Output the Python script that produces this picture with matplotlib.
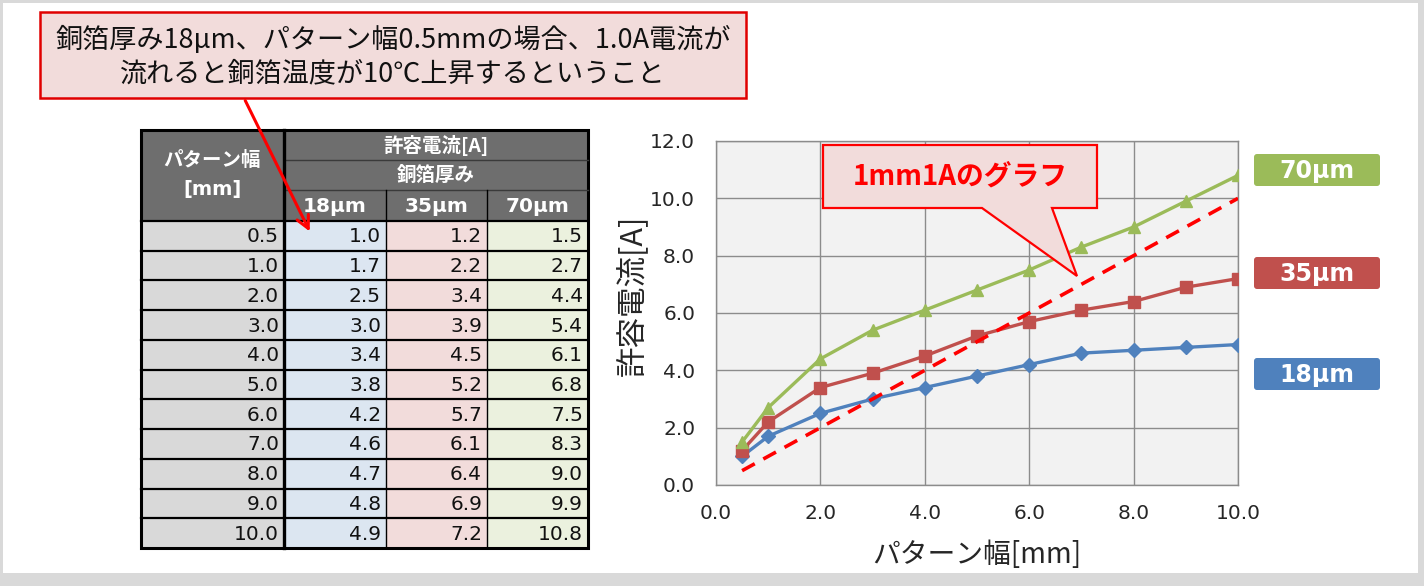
import matplotlib
matplotlib.use("Agg")
import matplotlib.pyplot as plt
from matplotlib.patches import Rectangle, Polygon, FancyBboxPatch

plt.rcParams['font.family'] = ['Noto Sans CJK JP', 'DejaVu Sans']

# ---------------- data ----------------
widths = [0.5, 1.0, 2.0, 3.0, 4.0, 5.0, 6.0, 7.0, 8.0, 9.0, 10.0]
cur_18 = [1.0, 1.7, 2.5, 3.0, 3.4, 3.8, 4.2, 4.6, 4.7, 4.8, 4.9]
cur_35 = [1.2, 2.2, 3.4, 3.9, 4.5, 5.2, 5.7, 6.1, 6.4, 6.9, 7.2]
cur_70 = [1.5, 2.7, 4.4, 5.4, 6.1, 6.8, 7.5, 8.3, 9.0, 9.9, 10.8]
ref_x = [0.5, 10.0]
ref_y = [0.5, 10.0]
series_names = ['18μm', '35μm', '70μm']
xticks = [0, 2, 4, 6, 8, 10]
yticks = [0, 2, 4, 6, 8, 10, 12]

c_blue, c_red, c_green = '#4f81bd', '#c0504d', '#9bbb59'

W, H = 1424, 586
fig = plt.figure(figsize=(W / 100, H / 100), dpi=100)
fig.patch.set_facecolor('#d9d9d9')

# background / table layer (pixel coordinates)
bg = fig.add_axes([0, 0, 1, 1], zorder=0)
bg.set_xlim(0, W); bg.set_ylim(H, 0); bg.axis('off')
bg.add_patch(Rectangle((3, 3), 1415, 570, facecolor='white', edgecolor='none'))

# ---------------- table ----------------
col_x = [141, 284, 386, 487, 588]
hdr_y = [130, 160, 190, 221]
row_h = (548 - 221) / len(widths)
hdr_fc = '#6e6e6e'
col_fc = ['#d9d9d9', '#dce6f1', '#f2dcdb', '#ebf1de']

bg.add_patch(Rectangle((col_x[0], hdr_y[0]), col_x[4] - col_x[0], hdr_y[3] - hdr_y[0],
                       facecolor=hdr_fc, edgecolor='none'))
for i in range(len(widths)):
    y0 = 221 + i * row_h
    for c in range(4):
        bg.add_patch(Rectangle((col_x[c], y0), col_x[c + 1] - col_x[c], row_h,
                               facecolor=col_fc[c], edgecolor='none'))
    vals = [widths[i], cur_18[i], cur_35[i], cur_70[i]]
    for c, v in enumerate(vals):
        bg.text(col_x[c + 1] - 5, y0 + row_h / 2 + 1, f'{v:.1f}', ha='right', va='center',
                fontsize=14.5, family='DejaVu Sans', color='#111111')
    if i > 0:
        bg.plot([col_x[0], col_x[4]], [y0, y0], color='black', lw=1.6)

# header lines
bg.plot([col_x[1], col_x[4]], [hdr_y[1], hdr_y[1]], color='#3a3a3a', lw=1.0)
bg.plot([col_x[1], col_x[4]], [hdr_y[2], hdr_y[2]], color='#3a3a3a', lw=1.0)
bg.plot([col_x[0], col_x[4]], [hdr_y[3], hdr_y[3]], color='black', lw=1.6)
for c in (2, 3):
    bg.plot([col_x[c], col_x[c]], [hdr_y[2], 548], color='black', lw=1.0)
bg.plot([col_x[1], col_x[1]], [hdr_y[0], 548], color='black', lw=2.4)
bg.add_patch(Rectangle((col_x[0], hdr_y[0]), col_x[4] - col_x[0], 548 - hdr_y[0],
                       facecolor='none', edgecolor='black', lw=2.2))

bg.text((col_x[0] + col_x[1]) / 2, 160, 'パターン幅', ha='center', va='center',
        fontsize=14, color='white', weight='bold')
bg.text((col_x[0] + col_x[1]) / 2, 189, '[mm]', ha='center', va='center',
        fontsize=14, color='white', weight='bold', family='DejaVu Sans')
bg.text((col_x[1] + col_x[4]) / 2, 145, '許容電流[A]', ha='center', va='center',
        fontsize=14, color='white', weight='bold')
bg.text((col_x[1] + col_x[4]) / 2, 175, '銅箔厚み', ha='center', va='center',
        fontsize=14, color='white', weight='bold')
for c, name in enumerate(series_names):
    bg.text((col_x[c + 1] + col_x[c + 2]) / 2, 206, name.replace('μ', 'µ'), ha='center',
            va='center', fontsize=14.5, color='white', weight='bold', family='DejaVu Sans')

# ---------------- chart ----------------
ax = fig.add_axes([716 / W, 1 - 485 / H, 522 / W, 344 / H], zorder=1)
ax.set_facecolor('#f2f2f2')
ax.set_xlim(0, 10); ax.set_ylim(0, 12)
ax.set_xticks(xticks); ax.set_yticks(yticks)
ax.set_xticklabels([f'{t:.1f}' for t in xticks], family='DejaVu Sans')
ax.set_yticklabels([f'{t:.1f}' for t in yticks], family='DejaVu Sans')
ax.grid(True, color='#8c8c8c', lw=1.0)
ax.set_axisbelow(True)
for s in ax.spines.values():
    s.set_color('#8c8c8c'); s.set_linewidth(1.0)
ax.tick_params(length=0, labelsize=14.5, colors='#262626')
ax.tick_params(axis='x', pad=14)
ax.tick_params(axis='y', pad=15)
ax.set_xlabel('パターン幅[mm]', fontsize=20, labelpad=12, color='#262626')
ax.set_ylabel('許容電流[A]', fontsize=22, color='#262626')
ax.yaxis.set_label_coords(-0.128, 0.552)

ax.plot(widths, cur_18, color=c_blue, lw=2.4, marker='D', ms=7, zorder=3)
ax.plot(widths, cur_35, color=c_red, lw=2.4, marker='s', ms=8, zorder=3)
ax.plot(widths, cur_70, color=c_green, lw=2.4, marker='^', ms=9, zorder=3)
ax.plot(ref_x, ref_y, color='#ff0000', lw=2.6, dashes=(4, 2.7), zorder=4)

# ---------------- overlay (callouts, labels) ----------------
top = fig.add_axes([0, 0, 1, 1], zorder=2)
top.set_xlim(0, W); top.set_ylim(H, 0); top.axis('off')
top.patch.set_visible(False)

# top callout
top.add_patch(Rectangle((40, 12), 706, 86, facecolor='#f2dcdb', edgecolor='#e00000', lw=1.8))
top.text(393, 40, '銅箔厚み18μm、パターン幅0.5mmの場合、1.0A電流が', ha='center', va='center',
         fontsize=19.5, color='#111111')
top.text(393, 74, '流れると銅箔温度が10℃上昇するということ', ha='center', va='center',
         fontsize=19.5, color='#111111')
top.annotate('', xy=(311, 234), xytext=(244, 98),
             arrowprops=dict(arrowstyle='->,head_length=0.9,head_width=0.45',
                             color='#ff0000', lw=2.2))

# chart callout
callout = Polygon([(823, 145), (1097, 145), (1097, 208), (1052, 208), (1077, 276),
                   (982, 208), (823, 208)], closed=True,
                  facecolor='#f2dcdb', edgecolor='#ff0000', lw=1.6)
top.add_patch(callout)
top.text(960, 177, '1mm1Aのグラフ', ha='center', va='center', fontsize=20,
         color='#ff0000', weight='bold')

# series labels
label_boxes = [(series_names[2], c_green, 170), (series_names[1], c_red, 273),
               (series_names[0], c_blue, 374)]
for name, col, yc in label_boxes:
    top.add_patch(FancyBboxPatch((1254, yc - 16), 126, 32,
                                 boxstyle='round,pad=0,rounding_size=3',
                                 facecolor=col, edgecolor='none'))
    top.text(1317, yc + 1, name.replace('μ', 'µ'), ha='center', va='center', fontsize=17,
             color='white', weight='bold', family='DejaVu Sans')

fig.savefig('out.png', dpi=100, facecolor=fig.get_facecolor())
